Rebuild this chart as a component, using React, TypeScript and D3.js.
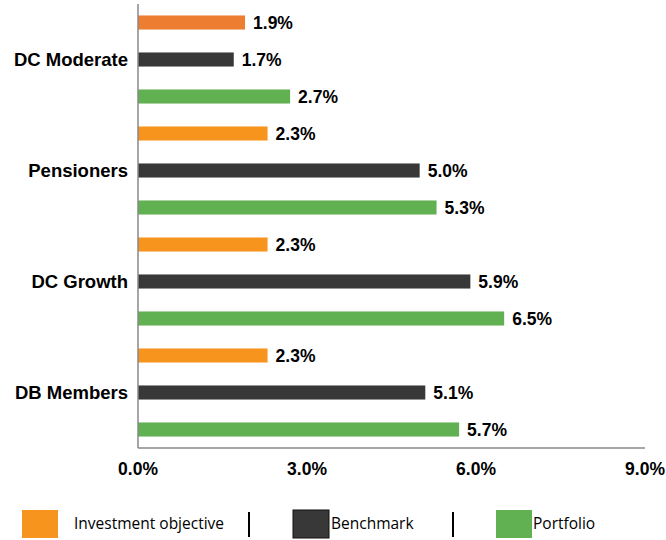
import React from "react";
import * as d3 from "d3";

const groups = ["DC Moderate", "Pensioners", "DC Growth", "DB Members"];
const objective = [1.9, 2.3, 2.3, 2.3];
const benchmark = [1.7, 5.0, 5.9, 5.1];
const portfolio = [2.7, 5.3, 6.5, 5.7];
const xTicks = [0, 3, 6, 9];
const seriesNames = ["Investment objective", "Benchmark", "Portfolio"];

const W = 666;
const H = 540;
const left = 138;
const right = 645;
const top = 4;
const bottom = 448;

const ORANGE = "#F7941D";
const ORANGE_FIRST = "#ED7D31";
const DARK = "#383838";
const GREEN = "#61B152";

export default function App() {
  const rows: { key: string; group: number; series: number; value: number }[] = [];
  groups.forEach((g, i) => {
    [objective, benchmark, portfolio].forEach((arr, s) => {
      rows.push({ key: `${g}-${s}`, group: i, series: s, value: arr[i] });
    });
  });

  const x = d3.scaleLinear().domain([0, 9]).range([left, right]);
  const y = d3
    .scaleBand<string>()
    .domain(rows.map((r) => r.key))
    .range([top, bottom])
    .paddingInner(0.62)
    .paddingOuter(0.31);

  const color = (r: { group: number; series: number }) =>
    r.series === 0 ? (r.group === 0 ? ORANGE_FIRST : ORANGE) : r.series === 1 ? DARK : GREEN;

  const fmt = d3.format(".1f");
  const font = "'Liberation Sans', Arial, sans-serif";
  const legendFont = "'Open Sans', sans-serif";

  const legendItems = [
    { name: seriesNames[0], color: ORANGE, sx: 22, tx: 74, stroke: "none" },
    { name: seriesNames[1], color: DARK, sx: 293, tx: 331, stroke: "#111" },
    { name: seriesNames[2], color: GREEN, sx: 496, tx: 533, stroke: "none" },
  ];
  const separators = [249, 453];

  return (
    <svg width={W} height={H} style={{ position: "absolute", left: 0, top: 0 }}>
      <rect width={W} height={H} fill="#fff" />
      {rows.map((r) => (
        <g key={r.key}>
          <rect
            x={x(0)}
            y={y(r.key)!}
            width={x(r.value) - x(0)}
            height={y.bandwidth()}
            fill={color(r)}
          />
          <text
            x={x(r.value) + 8}
            y={y(r.key)! + y.bandwidth() / 2}
            dy="0.35em"
            fontFamily={font}
            fontWeight="bold"
            fontSize={17.5}
            fill="#000"
          >
            {fmt(r.value)}%
          </text>
        </g>
      ))}
      {groups.map((g, i) => (
        <text
          key={g}
          x={128}
          y={y(`${g}-1`)! + y.bandwidth() / 2}
          dy="0.35em"
          textAnchor="end"
          fontFamily={font}
          fontWeight="bold"
          fontSize={18.5}
          fill="#000"
        >
          {g}
        </text>
      ))}
      <line x1={left} x2={left} y1={top} y2={bottom} stroke="#888" strokeWidth={1.5} />
      <line x1={left} x2={right} y1={bottom} y2={bottom} stroke="#888" strokeWidth={1.5} />
      {xTicks.map((t) => (
        <text
          key={t}
          x={x(t)}
          y={469}
          dy="0.35em"
          textAnchor="middle"
          fontFamily={font}
          fontWeight="bold"
          fontSize={17.5}
          fill="#000"
        >
          {fmt(t)}%
        </text>
      ))}
      {legendItems.map((l) => (
        <g key={l.name}>
          <rect x={l.sx} y={510} width={36} height={28} fill={l.color} stroke={l.stroke} />
          <text x={l.tx} y={524} dy="0.35em" fontFamily={legendFont} fontSize={15.5} fill="#000">
            {l.name}
          </text>
        </g>
      ))}
      {separators.map((s) => (
        <line key={s} x1={s} x2={s} y1={512} y2={537} stroke="#000" strokeWidth={2} />
      ))}
    </svg>
  );
}
